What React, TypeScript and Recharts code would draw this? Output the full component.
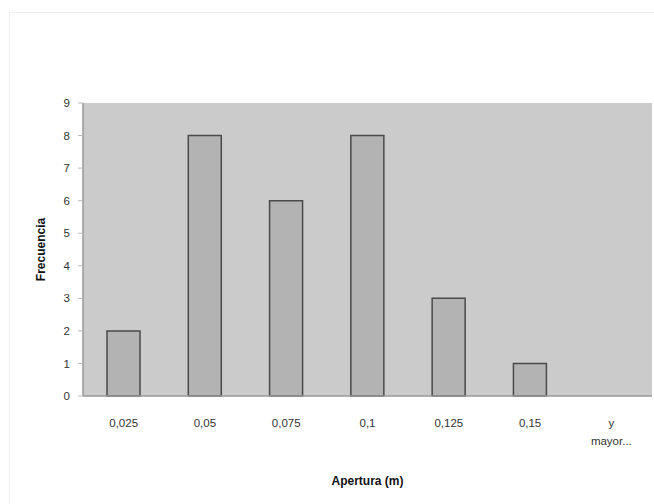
import { Bar, BarChart, CartesianGrid, XAxis, YAxis } from "recharts";

const categories = ["0,025", "0,05", "0,075", "0,1", "0,125", "0,15", "y mayor..."];
const frecuencia = [2, 8, 6, 8, 3, 1, 0];
const yTicks = [0, 1, 2, 3, 4, 5, 6, 7, 8, 9];

const data = categories.map((cat, i) => ({ cat, frecuencia: frecuencia[i] }));

const font = "'Liberation Sans', Arial, sans-serif";

function XTick(props: any) {
  const { x, y, payload } = props;
  const lines = payload.value === "y mayor..." ? ["y", "mayor..."] : [payload.value];
  return (
    <text x={x} y={y} textAnchor="middle" fontSize={11.5} fill="#333" fontFamily={font}>
      {lines.map((line: string, i: number) => (
        <tspan key={i} x={x} dy={i === 0 ? 31 : 18}>
          {line}
        </tspan>
      ))}
    </text>
  );
}

export default function App() {
  return (
    <div
      style={{
        position: "absolute",
        left: 8,
        top: 8,
        width: 646,
        height: 496,
        overflow: "hidden",
      }}
    >
      <div
        style={{
          position: "absolute",
          left: 1,
          top: 4,
          width: 660,
          height: 510,
          border: "1px solid #efefef",
        }}
      />
      <BarChart
        width={646}
        height={496}
        data={data}
        margin={{ top: 95, right: 2, bottom: 0, left: 0 }}
        barSize={33}
        style={{ position: "absolute", left: 0, top: 0 }}
      >
        <CartesianGrid fill="#cbcbcb" horizontal={false} vertical={false} />
        <XAxis
          dataKey="cat"
          height={108}
          interval={0}
          tickSize={0}
          tickMargin={0}
          tickLine={false}
          axisLine={{ stroke: "#999", strokeWidth: 1.5 }}
          tick={<XTick />}
          label={{
            value: "Apertura (m)",
            position: "insideBottom",
            offset: 19,
            fontSize: 12,
            fontWeight: "bold",
            fill: "#111",
            fontFamily: font,
          }}
        />
        <XAxis
          xAxisId="top"
          dataKey="cat"
          orientation="top"
          height={0}
          tick={false}
          tickLine={false}
          axisLine={{ stroke: "#999", strokeWidth: 1.5 }}
        />
        <YAxis
          width={75}
          domain={[0, 9]}
          ticks={yTicks}
          interval={0}
          tickSize={5}
          tickMargin={8}
          tickLine={{ stroke: "#bbb" }}
          axisLine={{ stroke: "#999", strokeWidth: 1.5 }}
          tick={{ fontSize: 11.5, fill: "#333", fontFamily: font }}
          label={{
            value: "Frecuencia",
            angle: -90,
            position: "center",
            dx: -5,
            fontSize: 12,
            fontWeight: "bold",
            fill: "#111",
            fontFamily: font,
          }}
        />
        <YAxis
          yAxisId="right"
          orientation="right"
          width={0}
          domain={[0, 9]}
          tick={false}
          tickLine={false}
          axisLine={{ stroke: "#999", strokeWidth: 1.5 }}
        />
        <Bar
          dataKey="frecuencia"
          fill="#b3b3b3"
          stroke="#4a4a4a"
          strokeWidth={1.5}
          isAnimationActive={false}
        />
      </BarChart>
    </div>
  );
}
